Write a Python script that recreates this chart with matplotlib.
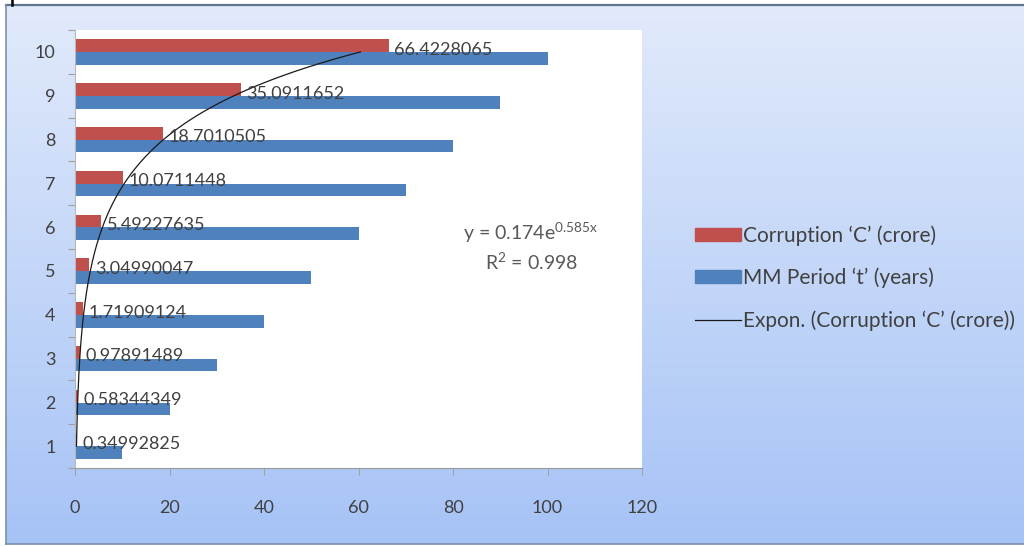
import numpy as np
import matplotlib
matplotlib.use("Agg")
import matplotlib.pyplot as plt
from matplotlib.patches import Patch
from matplotlib.lines import Line2D

plt.rcParams["font.family"] = ["Lato", "DejaVu Sans"]

# data
periods = [1, 2, 3, 4, 5, 6, 7, 8, 9, 10]
mm_period_years = [10, 20, 30, 40, 50, 60, 70, 80, 90, 100]
corruption_crore = [0.34992825, 0.58344349, 0.97891489, 1.71909124, 3.04990047,
                    5.49227635, 10.0711448, 18.7010505, 35.0911652, 66.4228065]
x_ticks = [0, 20, 40, 60, 80, 100, 120]

# exponential trendline y = a * exp(b * x)
trend_a = 0.174
trend_b = 0.585
r_squared = 0.998

RED = "#c0504d"
BLUE = "#4f81bd"
TEXT = "#404040"
W, H = 1024, 546

fig = plt.figure(figsize=(W / 100, H / 100), dpi=100)

# chart-area background: vertical gradient + frame
bg = fig.add_axes([0, 0, 1, 1], zorder=-10)
bg.set_xlim(0, W)
bg.set_ylim(H, 0)
bg.axis("off")
top = np.array([0xe1, 0xea, 0xfb]) / 255
bot = np.array([0xa6, 0xc3, 0xf6]) / 255
t = np.linspace(0, 1, 256)[:, None]
grad = (top[None, :] * (1 - t) + bot[None, :] * t)[:, None, :]
bg.imshow(grad, extent=(6, W, 544, 5), aspect="auto", interpolation="bilinear")
bg.plot([6, W], [5, 5], color="#5f7390", lw=1.6)
bg.plot([6, 6], [5, 544], color="#7d90ad", lw=1.2)
bg.plot([6, W], [544, 544], color="#7d90ad", lw=1.2)
bg.plot([11.5, 11.5], [0, 5], color="black", lw=1.8)

ax = fig.add_axes([75 / W, 1 - 468 / H, 567 / W, 438 / H])
ax.set_facecolor("white")

y = np.array(periods, dtype=float)
h = 0.29
ax.barh(y + h / 2 - 0.005, corruption_crore, height=h, color=RED, zorder=2)
ax.barh(y - h / 2 - 0.005, mm_period_years, height=h, color=BLUE, zorder=2)

# smooth trendline from the fitted equation, over the category range
ty = np.linspace(periods[0], periods[-1], 200)
ax.plot(trend_a * np.exp(trend_b * ty), ty, color="#1a1a1a", lw=0.9, zorder=3)

for yi, v in zip(y, corruption_crore):
    ax.annotate(f"{v}", xy=(v, yi + 0.05), xytext=(4, 0), textcoords="offset points",
                ha="left", va="center", fontsize=13, color=TEXT, zorder=4)

ax.set_xlim(0, 120)
ax.set_ylim(0.5, 10.5)
ax.set_xticks(x_ticks)
ax.set_xticklabels([str(v) for v in x_ticks])
ax.set_yticks(np.arange(0.5, 11, 1))
ax.set_yticklabels([])
ax.set_yticks(periods, minor=True)
ax.set_yticklabels([str(p) for p in periods], minor=True)
ax.tick_params(axis="y", which="major", length=5, color="#a0a0a0", direction="out")
ax.tick_params(axis="y", which="minor", length=0, pad=14, labelsize=13, labelcolor=TEXT)
ax.tick_params(axis="x", length=5, color="#a0a0a0", pad=18, labelsize=13, labelcolor=TEXT)
for s in ["top", "right"]:
    ax.spines[s].set_visible(False)
ax.spines["left"].set_color("#b8b8b8")
ax.spines["bottom"].set_color("#9a9a9a")

# trendline equation
fig.text(531 / W, 1 - 233 / H, "y = 0.174e$\\mathregular{^{0.585x}}$",
         ha="center", va="center", fontsize=14, color="#595959")
fig.text(532 / W, 1 - 262 / H, f"R$\\mathregular{{^2}}$ = {r_squared}",
         ha="center", va="center", fontsize=14, color="#595959")

handles = [Patch(color=RED), Patch(color=BLUE), Line2D([], [], color="#1a1a1a", lw=0.9)]
labels = ["Corruption \u2018C\u2019 (crore)", "MM Period \u2018t\u2019 (years)",
          "Expon. (Corruption \u2018C\u2019 (crore))"]
fig.legend(handles, labels, loc="upper left", bbox_to_anchor=(695 / W, 1 - 225 / H),
           frameon=False, fontsize=15, handlelength=2.2, handleheight=0.6,
           handletextpad=0.1, labelspacing=1.05, borderpad=0, borderaxespad=0,
           labelcolor=TEXT)

fig.savefig("out.png", dpi=100)
